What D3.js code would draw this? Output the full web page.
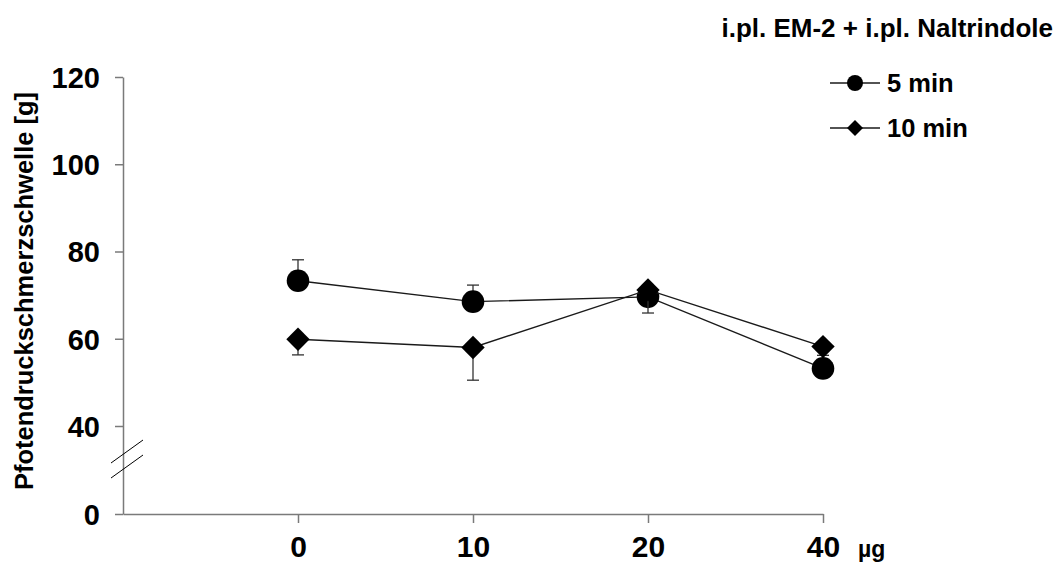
<!DOCTYPE html>
<html>
<head>
<meta charset="utf-8">
<script src="https://cdn.jsdelivr.net/npm/d3@7/dist/d3.min.js"></script>
<style>
  html, body { margin: 0; padding: 0; background: #fff; }
  svg { display: block; }
  text { font-family: "Liberation Sans", Arial, sans-serif; font-weight: bold; fill: #000; }
</style>
</head>
<body>
<script>
// Dose groups (µg) and paw-pressure thresholds (g), mean ± SEM
const doses = ["0", "10", "20", "40"];
const min5 = [73.3, 68.5, 69.6, 53.2];
const min5Sem = [4.8, 3.8, 2.5, 1.5];
const min10 = [59.9, 58.0, 71.2, 58.2];
const min10Sem = [3.6, 7.5, 5.3, 2.0];
const yTicks = [0, 40, 60, 80, 100, 120];

const W = 1058, H = 577;
const svg = d3.select("body").append("svg").attr("width", W).attr("height", H);

// Broken value axis: 0–40 compressed, 40–120 linear
const y = d3.scaleLinear().domain([0, 40, 120]).range([514, 426, 77]);
const x = d3.scaleLinear().domain([0, doses.length]).range([123, 823]);

const axisColor = "#7a7a7a";
const labelBaseline = 557;

// Y axis
const yAxis = svg.append("g").attr("transform", "translate(123,0)")
  .call(d3.axisLeft(y).tickValues(yTicks).tickSize(8).tickSizeOuter(0).tickPadding(15));
yAxis.select(".domain").attr("stroke", axisColor).attr("stroke-width", 1.5);
yAxis.selectAll(".tick line").attr("stroke", axisColor).attr("stroke-width", 1.5);
yAxis.selectAll(".tick text").style("font-size", "29px").attr("dy", "0.36em");

// X axis
const xAxis = svg.append("g").attr("transform", "translate(0,514)")
  .call(d3.axisBottom(x).tickValues(d3.range(1, doses.length + 1))
    .tickFormat(i => doses[i - 1]).tickSize(9).tickSizeOuter(0));
xAxis.select(".domain").attr("stroke", axisColor).attr("stroke-width", 1.5);
xAxis.selectAll(".tick line").attr("stroke", axisColor).attr("stroke-width", 1.5);
xAxis.selectAll(".tick text").style("font-size", "30px")
  .attr("y", labelBaseline - 514).attr("dy", 0);

// Unit label next to the last dose
svg.append("text").attr("x", x(doses.length) + 35).attr("y", labelBaseline)
  .style("font-size", "23px").text("µg");

// Axis break marks
const breakY = 459;
[-7.5, 7.5].forEach(off => {
  svg.append("line")
    .attr("x1", 111).attr("y1", breakY + off + 11.5)
    .attr("x2", 143).attr("y2", breakY + off - 11.5)
    .attr("stroke", "#000").attr("stroke-width", 1);
});

// Series
const series = [
  { name: "5 min", vals: min5, sem: min5Sem, sign: 1, shape: "circle" },
  { name: "10 min", vals: min10, sem: min10Sem, sign: -1, shape: "diamond" }
];

const line = d3.line().x((d, i) => x(i + 1)).y(d => y(d));

function marker(g, shape, cx, cy, s) {
  if (shape === "circle") {
    g.append("circle").attr("cx", cx).attr("cy", cy).attr("r", s).attr("fill", "#000");
  } else {
    g.append("path")
      .attr("d", `M${cx},${cy - s}L${cx + s},${cy}L${cx},${cy + s}L${cx - s},${cy}Z`)
      .attr("fill", "#000");
  }
}

series.forEach(s => {
  const g = svg.append("g");
  // error bars (one-sided)
  s.vals.forEach((v, i) => {
    const cx = x(i + 1);
    const yEnd = y(v + s.sign * s.sem[i]);
    g.append("line").attr("x1", cx).attr("x2", cx).attr("y1", y(v)).attr("y2", yEnd)
      .attr("stroke", "#333").attr("stroke-width", 1.3);
    g.append("line").attr("x1", cx - 6).attr("x2", cx + 6).attr("y1", yEnd).attr("y2", yEnd)
      .attr("stroke", "#333").attr("stroke-width", 1.3);
  });
  g.append("path").datum(s.vals).attr("d", line)
    .attr("fill", "none").attr("stroke", "#1a1a1a").attr("stroke-width", 1.4);
  s.vals.forEach((v, i) => marker(g, s.shape, x(i + 1), y(v), s.shape === "circle" ? 11.3 : 11.7));
});

// Legend
series.forEach((s, k) => {
  const ly = 83 + k * 45;
  svg.append("line").attr("x1", 830).attr("x2", 880).attr("y1", ly).attr("y2", ly)
    .attr("stroke", "#1a1a1a").attr("stroke-width", 1.4);
  marker(svg, s.shape, 855, ly, 8);
  svg.append("text").attr("x", 887).attr("y", ly).attr("dy", "0.36em")
    .style("font-size", "25.5px").text(s.name);
});

// Title
svg.append("text").attr("x", 1053).attr("y", 37).attr("text-anchor", "end")
  .style("font-size", "26px").text("i.pl. EM-2 + i.pl. Naltrindole");

// Y axis title
svg.append("text").attr("transform", "translate(33,291) rotate(-90)")
  .attr("text-anchor", "middle").style("font-size", "25.5px")
  .text("Pfotendruckschmerzschwelle [g]");
</script>
</body>
</html>
